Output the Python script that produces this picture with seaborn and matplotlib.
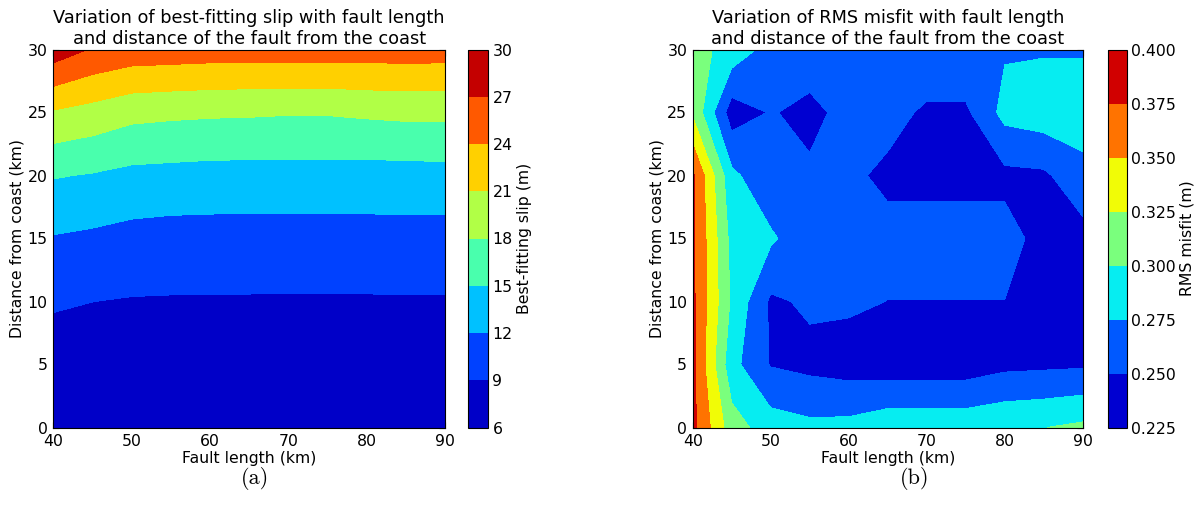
import numpy as np
import matplotlib
matplotlib.use("Agg")
import matplotlib.pyplot as plt
import seaborn as sns

# grid of the fault models
fault_length = [40, 45, 50, 55, 60, 65, 70, 75, 80, 85, 90]
distance = [0, 5, 10, 15, 20, 25, 30]

# best-fitting slip (m), one row per distance
slip = [
    [6.60, 7.00, 7.20, 7.25, 7.30, 7.30, 7.30, 7.30, 7.30, 7.30, 7.30],
    [7.36, 7.70, 7.90, 7.92, 7.95, 7.95, 7.95, 7.95, 7.95, 7.95, 7.95],
    [9.35, 9.01, 8.83, 8.79, 8.76, 8.76, 8.73, 8.73, 8.75, 8.76, 8.76],
    [11.80, 11.45, 11.01, 10.80, 10.78, 10.79, 10.78, 10.78, 10.83, 10.88, 10.84],
    [15.19, 14.80, 14.22, 14.07, 13.92, 13.88, 13.89, 13.89, 13.81, 13.86, 13.95],
    [20.70, 19.88, 18.85, 18.58, 18.41, 18.34, 18.19, 18.21, 18.47, 18.68, 18.67],
    [28.65, 26.70, 25.82, 25.68, 25.50, 25.41, 25.45, 25.45, 25.50, 25.46, 25.45],
]

# RMS misfit (m), one row per distance
misfit = [
    [0.382, 0.311, 0.287, 0.281, 0.2825, 0.2916, 0.2916, 0.2916, 0.2966, 0.2995, 0.3052],
    [0.381, 0.283, 0.2485, 0.2432, 0.2386, 0.2363, 0.2363, 0.2363, 0.2436, 0.2451, 0.2465],
    [0.380, 0.296, 0.2459, 0.2538, 0.254, 0.2497, 0.2497, 0.2497, 0.2497, 0.240, 0.240],
    [0.380, 0.292, 0.279, 0.257, 0.258, 0.2586, 0.2586, 0.2586, 0.2586, 0.242, 0.2408],
    [0.379, 0.281, 0.255, 0.2534, 0.2557, 0.2438, 0.2438, 0.2438, 0.2438, 0.2457, 0.267],
    [0.321, 0.237, 0.2515, 0.244, 0.257, 0.2601, 0.2452, 0.2452, 0.2828, 0.2888, 0.288],
    [0.309, 0.291, 0.2652, 0.2628, 0.262, 0.265, 0.272, 0.272, 0.2725, 0.2728, 0.2729],
]

slip_levels = [6, 9, 12, 15, 18, 21, 24, 27, 30]
misfit_levels = [0.225, 0.250, 0.275, 0.300, 0.325, 0.350, 0.375, 0.400]

sns.set_style("ticks")
plt.rcParams.update({
    "font.family": ["DejaVu Sans"],
    "text.color": "black",
    "axes.labelcolor": "black",
    "axes.edgecolor": "black",
    "axes.linewidth": 0.8,
    "xtick.direction": "in",
    "ytick.direction": "in",
    "xtick.top": True,
    "ytick.right": True,
    "xtick.major.size": 4,
    "ytick.major.size": 4,
    "xtick.major.pad": 5,
    "ytick.major.pad": 4,
    "xtick.color": "black",
    "ytick.color": "black",
    "xtick.labelsize": 11.3,
    "ytick.labelsize": 11.3,
})

W, H = 1197, 520
fig = plt.figure(figsize=(W / 100, H / 100), dpi=100)


def px(left, top, right, bottom):
    return [left / W, 1 - bottom / H, (right - left) / W, (bottom - top) / H]


def panel(axbox, cbox, data, levels, title, cblabel, caption, capx):
    ax = fig.add_axes(px(*axbox))
    cax = fig.add_axes(px(*cbox))
    X, Y = np.meshgrid(fault_length, distance)
    cs = ax.contourf(X, Y, np.array(data), levels=levels, cmap="jet")
    ax.set_xlim(40, 90)
    ax.set_ylim(0, 30)
    ax.set_xticks(range(40, 91, 10))
    ax.set_yticks(range(0, 31, 5))
    ax.set_title(title, fontsize=12.8, pad=4)
    ax.set_xlabel("Fault length (km)", fontsize=11.3, labelpad=1)
    ax.set_ylabel("Distance from coast (km)", fontsize=11.3, labelpad=2)
    cb = fig.colorbar(cs, cax=cax, ticks=levels)
    cb.set_label(cblabel, fontsize=11.3, labelpad=3)
    cb.ax.tick_params(direction="in", length=0, pad=3, labelsize=11.3, right=True, left=False)
    cb.outline.set_linewidth(0.8)
    fig.text(capx / W, 1 - 479 / H, caption, ha="center", va="center",
             fontsize=16, family="cmr10")
    return ax


panel((53.3, 49.5, 445, 427.5), (468.3, 49.5, 488.3, 427.5), slip, slip_levels,
      "Variation of best-fitting slip with fault length\nand distance of the fault from the coast",
      "Best-fitting slip (m)", "(a)", 255)
panel((692.7, 49.5, 1082.7, 427.5), (1107.7, 49.5, 1126.7, 427.5), misfit, misfit_levels,
      "Variation of RMS misfit with fault length\nand distance of the fault from the coast",
      "RMS misfit (m)", "(b)", 915)

fig.savefig("out.png", dpi=100)
